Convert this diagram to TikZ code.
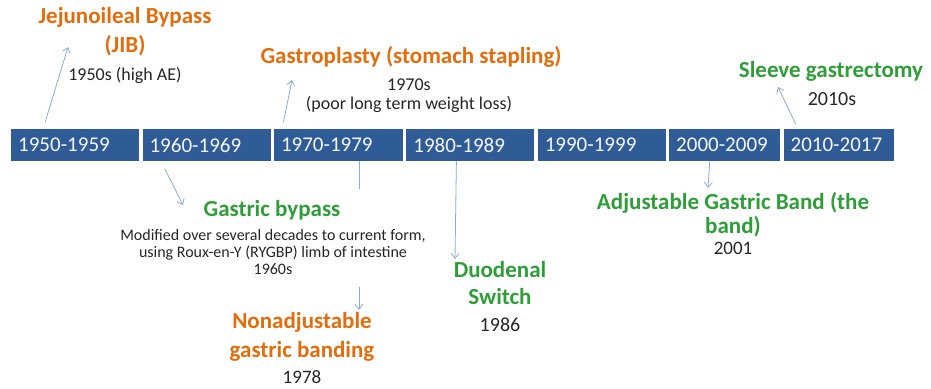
\documentclass[tikz,border=0pt]{standalone}
\usepackage{fontspec}
\setmainfont{Carlito}
\usepackage{tikz}
\usetikzlibrary{arrows.meta,positioning}
\definecolor{barBlue}{HTML}{2F5B96}
\definecolor{opOrange}{HTML}{E46C0A}
\definecolor{opGreen}{HTML}{2E9E38}
\definecolor{noteGray}{HTML}{262626}
\definecolor{linkBlue}{HTML}{8EA9D2}

\begin{document}
\begin{tikzpicture}[
  x=1pt, y=-1pt,
  node distance=3pt,
  period/.style={rectangle, fill=barBlue, text=white!95!barBlue, minimum height=32pt, inner xsep=7pt, inner ysep=0pt, align=left, text width=#1, font=\fontsize{21}{24}\selectfont},
  orangeop/.style={text=opOrange, align=center, font=\fontsize{23}{29}\selectfont\bfseries},
  greenop/.style={text=opGreen, align=center, font=\fontsize{23}{27}\selectfont\bfseries},
  note/.style={text=noteGray, align=center, font=\fontsize{16}{17.5}\selectfont},
  yr/.style={text=noteGray, align=center, font=\fontsize{20}{22}\selectfont},
  arrow/.style={-{Straight Barb[length=5pt,width=8pt]}, draw=linkBlue, line width=0.8pt},
  link/.style={draw=linkBlue, line width=0.8pt}
]
\useasboundingbox (0,0) rectangle (931,388);

% timeline bar
\node[period=114pt, anchor=north west] (p1950) at (11,129) {1950-1959};
\node[period=114pt, right=of p1950] (p1960) {1960-1969};
\node[period=115pt, right=of p1960] (p1970) {1970-1979};
\node[period=114pt, right=of p1970] (p1980) {1980-1989};
\node[period=114pt, right=of p1980] (p1990) {1990-1999};
\node[period=97pt, right=of p1990] (p2000) {2000-2009};
\node[period=96pt, right=of p2000] (p2010) {2010-2017};

% procedures above the bar
\node[orangeop] (jib) at (125,32) {Jejunoileal Bypass\\(JIB)};
\node[note, font=\fontsize{18}{20}\selectfont] (jibyr) at (125,75) {1950s (high AE)};
\node[orangeop] (gplasty) at (411,57) {Gastroplasty (stomach stapling)};
\node[note, font=\fontsize{18}{19}\selectfont] (gplastyyr) at (409,96) {1970s\\(poor long term weight loss)};
\node[greenop] (sleeve) at (831,71) {Sleeve gastrectomy};
\node[yr] (sleeveyr) at (832,99) {2010s};

% procedures below the bar
\node[greenop] (gbypass) at (272,210) {Gastric bypass};
\node[note] (gbypassyr) at (273,252) {Modified over several decades to current form,\\using Roux-en-Y (RYGBP) limb of intestine\\1960s};
\node[orangeop] (nagb) at (302,337) {Nonadjustable\\gastric banding};
\node[yr, font=\fontsize{19}{21}\selectfont] (nagbyr) at (302,377) {1978};
\node[greenop] (ds) at (500,283) {Duodenal\\Switch};
\node[yr] (dsyr) at (500,325) {1986};
\node[greenop, font=\fontsize{23}{24}\selectfont\bfseries] (agb) at (733,215) {Adjustable Gastric Band (the\\band)};
\node[yr, font=\fontsize{19}{21}\selectfont] (agbyr) at (733,248) {2001};

% loose ends of the connectors
\coordinate (jibtip) at (68,47);
\coordinate (gplastytip) at (292,80);
\coordinate (sleevetip) at (778,87);
\coordinate (gbypasstip) at (183,205);
\coordinate (nagbfrom) at (359,287);
\coordinate (nagbtip) at (359,310);
\coordinate (dstip) at (455,259);
\coordinate (agbtip) at (708,188);

\draw[arrow] ([xshift=-30pt,yshift=7pt]p1950.north) -- (jibtip);
\draw[arrow] ([xshift=-55pt,yshift=7pt]p1970.north) -- (gplastytip);
\draw[arrow] ([xshift=-43pt,yshift=5pt]p2010.north) -- (sleevetip);
\draw[arrow] ([xshift=-42pt,yshift=-7pt]p1960.south) -- (gbypasstip);
\draw[link] ([xshift=21pt]p1970.south) -- ++(0,28);
\draw[arrow] (nagbfrom) -- (nagbtip);
\draw[arrow] ([xshift=-14pt]p1980.south) -- (dstip);
\draw[arrow] ([xshift=-15pt]p2000.south) -- (agbtip);
\end{tikzpicture}
\end{document}
